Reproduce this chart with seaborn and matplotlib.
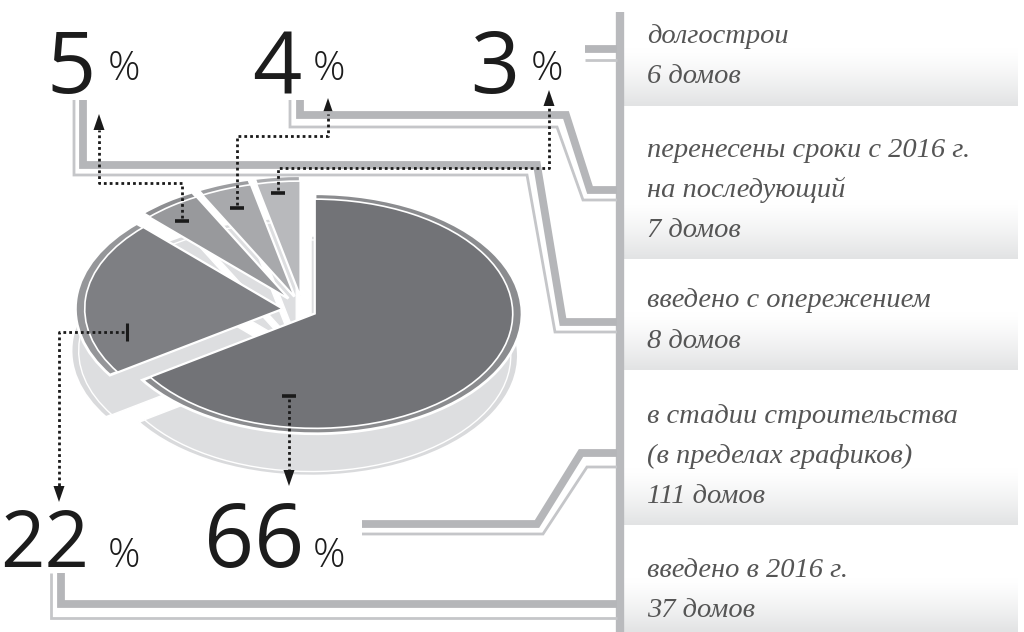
import numpy as np
import matplotlib
matplotlib.use('Agg')
import matplotlib.pyplot as plt
import seaborn as sns
from matplotlib.patches import Polygon
from matplotlib.colors import LinearSegmentedColormap

# ---------------- data ----------------
categories = ['в стадии строительства\n(в пределах графиков)',
              'введено в 2016 г.',
              'введено с опережением',
              'перенесены сроки с 2016 г.\nна последующий',
              'долгострои']
houses = [111, 37, 8, 7, 6]
percent_labels = ['66', '22', '5', '4', '3']
house_word = 'домов'
legend_order = [4, 3, 2, 0, 1]          # top-to-bottom order of the right panel

# ---------------- style ----------------
face_colors = ['#727377', '#7e7f83', '#98999c', '#a8a9ac', '#b8b9bc']
rim_colors = ['#8b8c8f', '#959699', '#8d8e91', '#9c9da0', '#aaabae']
side_color = '#d9dadc'
explode = [0.066, 0.10, 0.12, 0.12, 0.12]

sns.set_theme(style='white')
plt.rcParams['font.family'] = ['Open Sans', 'DejaVu Sans']

W, H = 1024, 632
fig = plt.figure(figsize=(W / 100, H / 100), dpi=100)
fig.patch.set_facecolor('white')
CX, CY, RX, RY = 303, 310, 207, 120

# ---------------- pie (elliptical axes gives the tilted look) ----------------
axe = fig.add_axes([0, 0, 1, 1])
pie_kw = dict(startangle=90, counterclock=False, explode=explode)
side_c = (-4 / RX, -42 / RY)
axe.pie(houses, colors=[side_color] * len(houses), center=side_c, radius=1.0,
        wedgeprops=dict(edgecolor='white', linewidth=1.5), **pie_kw)
axe.pie(houses, colors=['#dddee0'] * len(houses), center=side_c, radius=0.965,
        wedgeprops=dict(edgecolor='white', linewidth=1.0), **pie_kw)
axe.pie(houses, colors=rim_colors, radius=1.0,
        wedgeprops=dict(edgecolor='white', linewidth=2.0), **pie_kw)
axe.pie(houses, colors=face_colors, radius=0.955,
        wedgeprops=dict(edgecolor='white', linewidth=1.2), **pie_kw)
axe.set_aspect('auto')
axe.set_xlim((0 - CX) / RX, (W - CX) / RX)
axe.set_ylim((CY - H) / RY, CY / RY)
axe.axis('off')

# ---------------- pixel overlay ----------------
axp = fig.add_axes([0, 0, 1, 1])
axp.axis('off')

# gradient panels on the right
grad = np.linspace(0, 1, 64).reshape(-1, 1) ** 1.3
cmap = LinearSegmentedColormap.from_list('g', ['#ffffff', '#e2e3e4'])
for y0, y1 in [(48, 106), (200, 259), (312, 370), (468, 525), (578, 632)]:
    axp.imshow(grad, cmap=cmap, aspect='auto', origin='upper',
               extent=(624, 1018, y1, y0), interpolation='bilinear', vmin=0, vmax=1)

# vertical separator
axp.plot([620, 620], [12, 632], color='#b9babd', lw=6.0, solid_capstyle='butt')

# connectors (thick + thin double lines)
def gline(pts, thick=True):
    xs, ys = zip(*pts)
    axp.plot(xs, ys, color='#b5b6b9' if thick else '#c5c6c9',
             lw=5.6 if thick else 2.0, solid_joinstyle='miter', solid_capstyle='butt')

gline([(83, 100), (83, 165), (537, 165), (563, 322), (617, 322)])
gline([(74, 100), (74, 175), (527, 175), (555, 332), (617, 332)], False)
gline([(300, 100), (300, 115), (566, 115), (590, 190), (617, 190)])
gline([(290, 100), (290, 127), (557, 127), (583, 200), (617, 200)], False)
gline([(585, 49), (617, 49)])
gline([(585, 60), (617, 60)], False)
gline([(362, 524), (537, 524), (581, 453), (617, 453)])
gline([(362, 534), (543, 534), (587, 467), (617, 467)], False)
gline([(61, 573), (61, 604), (617, 604)])
gline([(51, 573), (51, 618), (617, 618)], False)

# dotted leaders with arrowheads
def leader(pts, up=True):
    xs, ys = zip(*pts)
    axp.plot(xs, ys, color='#1a1a1a', lw=2.0, linestyle=(0, (1, 1.1)))
    x, y = pts[-1]
    if up:
        tri = [(x, y - 16), (x - 5.5, y), (x + 5.5, y)]
    else:
        tri = [(x, y + 16), (x - 5.5, y), (x + 5.5, y)]
    axp.add_patch(Polygon(tri, closed=True, color='#1a1a1a', lw=0))

leader([(182, 218), (182, 183), (99, 183), (99, 130)])
leader([(237, 205), (237, 136), (328, 136), (328, 114)])
leader([(278, 190), (278, 168), (549, 168), (549, 106)])
leader([(124, 332), (59, 332), (59, 486)], up=False)
leader([(289, 399), (289, 470)], up=False)

for x, y in [(182, 221), (237, 208), (278, 193), (289, 396)]:
    axp.plot([x - 7, x + 7], [y, y], color='#1a1a1a', lw=2.6, solid_capstyle='butt')
axp.plot([127, 127], [323, 341], color='#1a1a1a', lw=2.2, solid_capstyle='butt')

# big percentage labels
num_pos = {'66': (204, 567, 63), '22': (0, 567, 56), '5': (46, 93, 62),
           '4': (252, 93, 62), '3': (470, 93, 62)}
pct_pos = {'66': (313, 567), '22': (108, 567), '5': (108, 80),
           '4': (313, 80), '3': (531, 80)}
for lab in percent_labels:
    x, y, fs = num_pos[lab]
    axp.text(x, y, lab, fontsize=fs, color='#1c1c1c', ha='left', va='baseline',
             family=['Open Sans', 'DejaVu Sans'])
    px, py = pct_pos[lab]
    axp.text(px, py, '%', fontsize=29, color='#1c1c1c', ha='left', va='baseline',
             family=['Open Sans', 'DejaVu Sans'], fontweight='light')

# legend text
baselines = [[43, 83], [157, 197, 237], [307, 348], [423, 463, 503], [577, 617]]
for row, idx in enumerate(legend_order):
    lines = categories[idx].split('\n') + [f'{houses[idx]} {house_word}']
    for line, yb in zip(lines, baselines[row]):
        axp.text(647, yb, line, fontsize=20.5, color='#555555', style='italic',
                 family=['Liberation Serif', 'DejaVu Serif'], ha='left', va='baseline')

axp.set_xlim(0, W)
axp.set_ylim(H, 0)

fig.savefig('out.png', dpi=100, facecolor='white')
